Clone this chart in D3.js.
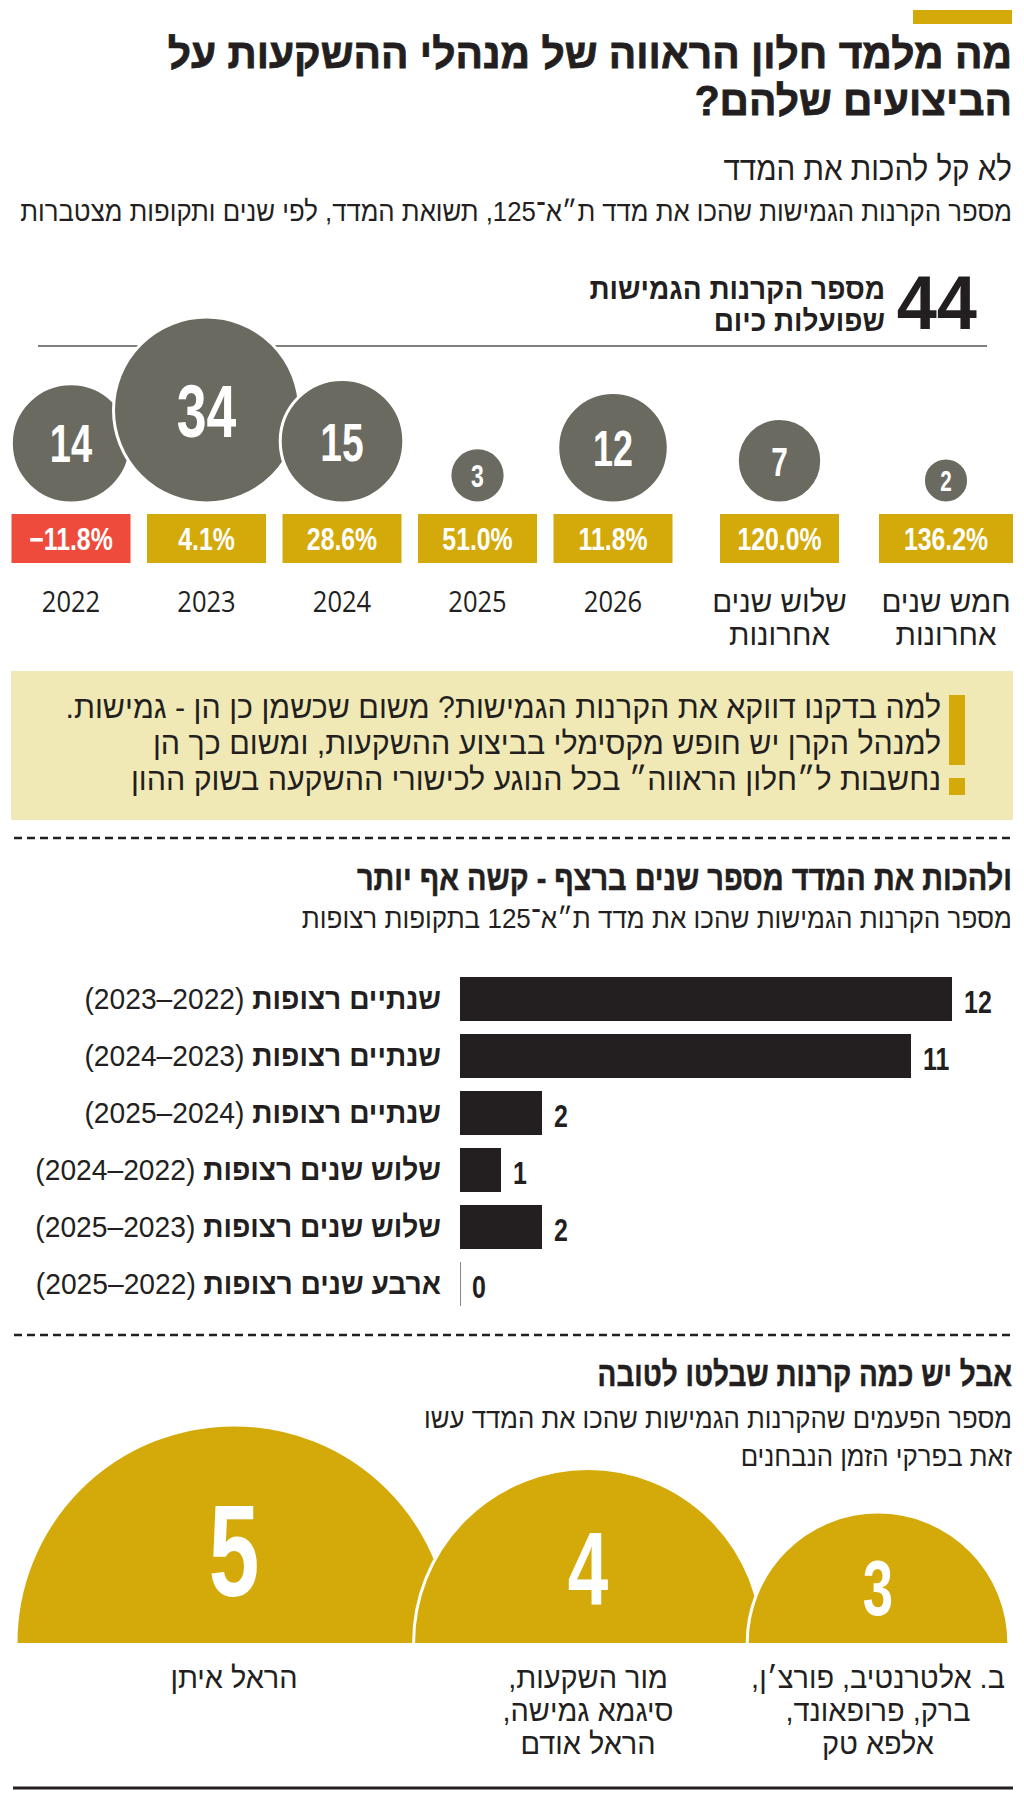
<!DOCTYPE html>
<html><head><meta charset="utf-8">
<script src="https://cdn.jsdelivr.net/npm/d3@7"></script>
<style>html,body{margin:0;padding:0;background:#fff}</style>
</head><body>
<script>
// ---------- DATA ----------
const activeFunds = 44;
const periodLabels = [["2022"],["2023"],["2024"],["2025"],["2026"],["שלוש שנים","אחרונות"],["חמש שנים","אחרונות"]];
const fundsBeatIndex = [14,34,15,3,12,7,2];
const indexReturn = [-11.8,4.1,28.6,51.0,11.8,120.0,136.2];

const streakNames = ["שנתיים רצופות","שנתיים רצופות","שנתיים רצופות","שלוש שנים רצופות","שלוש שנים רצופות","ארבע שנים רצופות"];
const streakYears = ["(2022–2023)","(2023–2024)","(2024–2025)","(2022–2024)","(2023–2025)","(2022–2025)"];
const streakValues = [12,11,2,1,2,0];

const topCounts = [5,4,3];
const topFunds = [["הראל איתן"],["מור השקעות,","סיגמא גמישה,","הראל אודם"],["ב. אלטרנטיב, פורצ׳ן,","ברק, פרופאונד,","אלפא טק"]];

// ---------- STYLE ----------
const GOLD="#d4aa0b", RED="#ef4b3c", GREY="#6b6a61", INK="#231f20", NOTE="#f1e9b5";
const HEB="'Liberation Sans', 'DejaVu Sans', sans-serif";
const HEBR="'Open Sans', 'Liberation Sans', sans-serif";
const NUM="'Liberation Sans', sans-serif";

const svg = d3.select("body").append("svg").attr("width",1024).attr("height",1797)
  .style("display","block");

function txt(p, x, y, s, o={}){
  const rtl = o.dir !== "ltr";
  const align = o.align || "right";
  let anchor;
  if (align==="middle") anchor="middle";
  else if (rtl) anchor = align==="right" ? "start" : "end";
  else anchor = align==="right" ? "end" : "start";
  const t = p.append("text")
    .attr("transform",`translate(${x},${y}) scale(${o.sx||1},1)`)
    .attr("direction", rtl?"rtl":"ltr")
    .attr("text-anchor",anchor)
    .attr("font-family",o.family||HEB)
    .attr("font-size",o.size||24)
    .attr("font-weight",o.weight||"normal")
    .attr("fill",o.fill||INK);
  if (o.stroke) t.attr("stroke",o.fill||INK).attr("stroke-width",o.stroke);
  if (o.lines) s.forEach((l,k)=>t.append("tspan").attr("x",0).attr("dy",k?o.lines:0).text(l));
  else if (Array.isArray(s)) s.forEach(sp=>t.append("tspan").attr("font-weight",sp.w||"normal").text(sp.t));
  else t.text(s);
  return t;
}

// ---------- HEADER ----------
svg.append("rect").attr("x",913).attr("y",10).attr("width",99).attr("height",14).attr("fill",GOLD);
txt(svg,1012,68,["מה מלמד חלון הראווה של מנהלי ההשקעות על","הביצועים שלהם?"],{size:42,weight:"bold",sx:0.97,lines:47,stroke:0.8});
txt(svg,1012,180,"לא קל להכות את המדד",{size:34,sx:0.87});
txt(svg,1012,221,"מספר הקרנות הגמישות שהכו את מדד ת״א־125, תשואת המדד, לפי שנים ותקופות מצטברות",{size:28,sx:0.92});

// ---------- SECTION 1: circles ----------
const s1 = svg.append("g");
txt(s1,977,329,String(activeFunds),{size:76,weight:"bold",dir:"ltr",family:NUM,sx:0.95});
txt(s1,885,299,["מספר הקרנות הגמישות","שפועלות כיום"],{size:29,weight:"bold",sx:0.965,lines:32.5});
s1.append("line").attr("x1",38).attr("x2",987).attr("y1",346).attr("y2",346)
  .attr("stroke","#555").attr("stroke-width",1.3);

const idx = d3.range(fundsBeatIndex.length);
const xC = d3.scaleLinear().domain([0,4,6]).range([71,613,946]);
const rC = d3.scaleSqrt().domain([0,34]).range([0,93]);
const baseC = 503;
const cg = s1.append("g").selectAll("g").data(idx).join("g");
cg.append("circle").attr("cx",i=>xC(i)).attr("cy",i=>baseC-rC(fundsBeatIndex[i])).attr("r",i=>rC(fundsBeatIndex[i]))
  .attr("fill",GREY).attr("stroke","#fff").attr("stroke-width",3);
cg.each(function(i){
  const r=rC(fundsBeatIndex[i]), fs=14+0.65*r;
  txt(d3.select(this), xC(i), baseC-r+0.36*fs, String(fundsBeatIndex[i]),
     {size:fs, weight:"bold", dir:"ltr", family:NUM, fill:"#fff", align:"middle", sx:0.72});
});
const boxW = i => i===6 ? 134 : 119;
cg.append("rect").attr("x",i=>xC(i)-boxW(i)/2).attr("y",514).attr("width",boxW).attr("height",49)
  .attr("fill",i=>indexReturn[i]<0?RED:GOLD);
cg.each(function(i){
  const v=indexReturn[i];
  txt(d3.select(this), xC(i), 550, (v<0?"−":"")+Math.abs(v).toFixed(1)+"%",
     {size:31, weight:"bold", dir:"ltr", family:NUM, fill:"#fff", align:"middle", sx:0.8});
  const lab = periodLabels[i];
  const numeric = /^\d+$/.test(lab[0]);
  txt(d3.select(this), xC(i), 612, lab,
    numeric ? {size:29, family:HEBR, align:"middle", sx:0.88, dir:"ltr", lines:33}
            : {size:29.5, family:HEB, align:"middle", sx:1.0, lines:33});
});

// ---------- NOTE BOX ----------
const nb = svg.append("g");
nb.append("rect").attr("x",11).attr("y",671).attr("width",1002).attr("height",149).attr("fill",NOTE);
nb.append("rect").attr("x",949).attr("y",695).attr("width",16).attr("height",70).attr("fill",GOLD);
nb.append("rect").attr("x",949).attr("y",778).attr("width",16).attr("height",17).attr("fill",GOLD);
txt(nb,941,718,["למה בדקנו דווקא את הקרנות הגמישות? משום שכשמן כן הן - גמישות.",
 "למנהל הקרן יש חופש מקסימלי בביצוע ההשקעות, ומשום כך הן",
 "נחשבות ל״חלון הראווה״ בכל הנוגע לכישורי ההשקעה בשוק ההון"],{size:31,sx:0.98,lines:36});

function dashed(y){
  svg.append("line").attr("x1",14).attr("x2",1013).attr("y1",y).attr("y2",y)
    .attr("stroke",INK).attr("stroke-width",2.5).attr("stroke-dasharray","8,5");
}
dashed(838);

// ---------- SECTION 2: bars ----------
const s2 = svg.append("g");
txt(s2,1012,890,"ולהכות את המדד מספר שנים ברצף - קשה אף יותר",{size:34,weight:"bold",sx:0.85,stroke:0.5});
txt(s2,1012,928,"מספר הקרנות הגמישות שהכו את מדד ת״א־125 בתקופות רצופות",{size:28,sx:0.93});
const xB = d3.scaleLinear().domain([0,12]).range([460,952]);
const yB = d3.scaleBand().domain(d3.range(streakValues.length)).range([977,1306]).paddingInner(0.228).paddingOuter(0);
const bg = s2.selectAll("g.bar").data(d3.range(streakValues.length)).join("g");
bg.append("rect").attr("x",xB(0)).attr("y",i=>yB(i)).attr("height",yB.bandwidth())
  .attr("width",i=>Math.max(1,xB(streakValues[i])-xB(0)))
  .attr("fill",i=>streakValues[i]===0?"#888":INK);
bg.each(function(i){
  const g=d3.select(this), cy=yB(i)+yB.bandwidth()/2;
  txt(g, xB(streakValues[i])+12, cy+14, String(streakValues[i]), {size:32, weight:"bold", dir:"ltr", family:NUM, align:"left", sx:0.78});
  txt(g, 441, cy+10, [{t:streakNames[i]+" ",w:"bold"},{t:streakYears[i]}], {size:30, sx:0.94});
});

dashed(1335);

// ---------- SECTION 3: domes ----------
const s3 = svg.append("g");
txt(s3,1012,1386,"אבל יש כמה קרנות שבלטו לטובה",{size:34,weight:"bold",sx:0.82,stroke:0.5});
txt(s3,1012,1428,["מספר הפעמים שהקרנות הגמישות שהכו את המדד עשו","זאת בפרקי הזמן הנבחנים"],{size:28,sx:0.92,lines:38});
const xD = d3.scaleLinear().domain([0,1,2]).range([234,588,878]);
const rD = d3.scaleLinear().domain([0,5]).range([0,218]);
const baseD = 1643;
const arc = (cx,r,closed)=>{ const p=d3.path(); p.moveTo(cx-r,baseD); p.arc(cx,baseD,r,Math.PI,0); if(closed)p.closePath(); return p.toString(); };
const dg = s3.selectAll("g.d").data(d3.range(topCounts.length)).join("g");
dg.append("path").attr("d",i=>arc(xD(i),rD(topCounts[i]),true)).attr("fill",GOLD);
dg.append("path").attr("d",i=>arc(xD(i),rD(topCounts[i]),false)).attr("fill","none").attr("stroke","#fff").attr("stroke-width",3);
dg.each(function(i){
  const g=d3.select(this), r=rD(topCounts[i]), fs=26*topCounts[i];
  txt(g, xD(i), baseD-0.43*r+0.36*fs, String(topCounts[i]), {size:fs, weight:"bold", dir:"ltr", family:NUM, fill:"#fff", align:"middle", sx:0.7});
  txt(g, xD(i), 1688, topFunds[i], {size:29.5, family:HEB, align:"middle", sx:0.98, lines:33});
});

svg.append("line").attr("x1",13).attr("x2",1013).attr("y1",1788).attr("y2",1788).attr("stroke",INK).attr("stroke-width",3);
</script>
</body></html>
